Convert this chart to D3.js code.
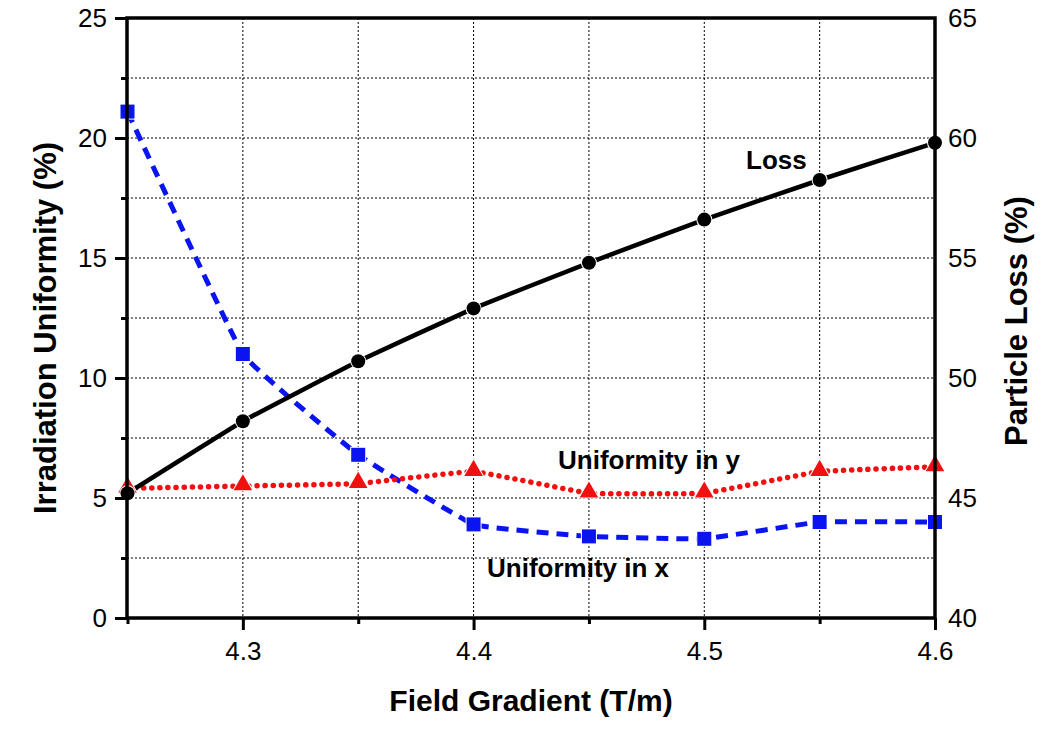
<!DOCTYPE html>
<html>
<head>
<meta charset="utf-8">
<script src="https://cdn.jsdelivr.net/npm/d3@7"></script>
<style>
  body { margin: 0; background: #fff; }
  text { font-family: "Liberation Sans", Arial, sans-serif; }
</style>
</head>
<body>
<div id="chart"></div>
<script>
const width = 1062;
const height = 729;

// data
const gradient = [4.25, 4.3, 4.35, 4.4, 4.45, 4.5, 4.55, 4.6];
const uniformX = [21.1, 11.0, 6.8, 3.9, 3.4, 3.3, 4.0, 4.0];
const uniformY = [5.4, 5.5, 5.6, 6.1, 5.2, 5.2, 6.1, 6.3];
const loss = [45.2, 48.2, 50.7, 52.9, 54.8, 56.6, 58.25, 59.8];

const xTicks = [4.3, 4.4, 4.5, 4.6];
const xMinor = [4.25, 4.35, 4.45, 4.55];
const leftTicks = [0, 5, 10, 15, 20, 25];
const leftMinor = [2.5, 7.5, 12.5, 17.5, 22.5];
const rightTicks = [40, 45, 50, 55, 60, 65];

const margin = { top: 18, right: 127, bottom: 111, left: 127 };
const plotLeft = margin.left, plotRight = width - margin.right;
const plotTop = margin.top, plotBottom = height - margin.bottom;

const svg = d3.select("#chart").append("svg")
    .attr("width", width)
    .attr("height", height);

const x = d3.scaleLinear().domain([4.25, 4.6]).range([plotLeft + 0.5, plotRight]);
const yL = d3.scaleLinear().domain([0, 25]).range([plotBottom, plotTop]);
const yR = d3.scaleLinear().domain([40, 65]).range([plotBottom, plotTop]);

// grid
const grid = svg.append("g")
    .attr("stroke", "#000")
    .attr("stroke-width", 1)
    .attr("stroke-dasharray", "2,2");
grid.selectAll(".gx").data(xTicks.concat(xMinor).filter(d => d > 4.25 && d < 4.6))
  .join("line")
    .attr("x1", d => x(d)).attr("x2", d => x(d))
    .attr("y1", plotTop).attr("y2", plotBottom);
grid.selectAll(".gy").data(leftTicks.concat(leftMinor).filter(d => d > 0 && d < 25))
  .join("line")
    .attr("x1", plotLeft).attr("x2", plotRight)
    .attr("y1", d => yL(d)).attr("y2", d => yL(d));

// series
const lineFor = (ys, scale) => d3.line()
    .x((d, i) => x(gradient[i]))
    .y(d => scale(d))
    .curve(d3.curveCardinal.tension(0.75))(ys);

svg.append("path")
    .attr("d", lineFor(uniformX, yL))
    .attr("fill", "none")
    .attr("stroke", "#0a14f0")
    .attr("stroke-width", 5)
    .attr("stroke-dasharray", "12,8");

svg.append("path")
    .attr("d", lineFor(uniformY, yL))
    .attr("fill", "none")
    .attr("stroke", "#f01010")
    .attr("stroke-width", 5.5)
    .attr("stroke-linecap", "round")
    .attr("stroke-dasharray", "0.1,8");

svg.append("path")
    .attr("d", lineFor(loss, yR))
    .attr("fill", "none")
    .attr("stroke", "#000")
    .attr("stroke-width", 4.5);

// markers, with a thin white halo like the original
svg.append("g").selectAll("rect").data(uniformX).join("rect")
    .attr("x", (d, i) => x(gradient[i]) - 7)
    .attr("y", d => yL(d) - 7)
    .attr("width", 14).attr("height", 14)
    .attr("fill", "#0a14f0")
    .attr("stroke", "#fff").attr("stroke-width", 2)
    .attr("paint-order", "stroke");

const tri = d3.symbol().type(d3.symbolTriangle).size(150);
svg.append("g").selectAll("path").data(uniformY).join("path")
    .attr("d", tri)
    .attr("transform", (d, i) => `translate(${x(gradient[i])},${yL(d) - 1})`)
    .attr("fill", "#f01010")
    .attr("stroke", "#fff").attr("stroke-width", 2)
    .attr("paint-order", "stroke");

svg.append("g").selectAll("circle").data(loss).join("circle")
    .attr("cx", (d, i) => x(gradient[i]))
    .attr("cy", d => yR(d))
    .attr("r", 7)
    .attr("fill", "#000")
    .attr("stroke", "#fff").attr("stroke-width", 2)
    .attr("paint-order", "stroke");

// frame
svg.append("rect")
    .attr("x", plotLeft).attr("y", plotTop)
    .attr("width", plotRight - plotLeft).attr("height", plotBottom - plotTop)
    .attr("fill", "none")
    .attr("stroke", "#000")
    .attr("stroke-width", 3.5);

// axes
svg.append("g")
    .attr("transform", `translate(0,${plotBottom})`)
    .call(d3.axisBottom(x).tickValues(xTicks).tickSize(12).tickPadding(12).tickFormat(d3.format(".1f")));
svg.append("g")
    .attr("transform", `translate(0,${plotBottom})`)
    .call(d3.axisBottom(x).tickValues(xMinor).tickSize(6).tickFormat(""));

svg.append("g")
    .attr("transform", `translate(${plotLeft},0)`)
    .call(d3.axisLeft(yL).tickValues(leftTicks).tickSize(12).tickPadding(8));
svg.append("g")
    .attr("transform", `translate(${plotLeft},0)`)
    .call(d3.axisLeft(yL).tickValues(leftMinor).tickSize(6).tickFormat(""));

svg.append("g")
    .attr("transform", `translate(${plotRight},0)`)
    .call(d3.axisRight(yR).tickValues(rightTicks).tickSize(0).tickPadding(13));

svg.selectAll(".domain").remove();
svg.selectAll(".tick line").attr("stroke", "#000").attr("stroke-width", 3);
svg.selectAll(".tick text")
    .attr("font-size", 26)
    .attr("fill", "#000")
    .style("font-family", "Liberation Sans, Arial, sans-serif");

// titles
svg.append("text")
    .attr("x", (plotLeft + plotRight) / 2)
    .attr("y", 711)
    .attr("text-anchor", "middle")
    .attr("font-size", 30)
    .attr("font-weight", "bold")
    .text("Field Gradient (T/m)");

svg.append("text")
    .attr("transform", `translate(56,${(plotTop + plotBottom) / 2 + 10}) rotate(-90)`)
    .attr("text-anchor", "middle")
    .attr("font-size", 31)
    .attr("font-weight", "bold")
    .text("Irradiation Uniformity (%)");

svg.append("text")
    .attr("transform", `translate(1027,${(plotTop + plotBottom) / 2 + 3}) rotate(-90)`)
    .attr("text-anchor", "middle")
    .attr("font-size", 31)
    .attr("font-weight", "bold")
    .text("Particle Loss (%)");

// annotations
function createAnnotation(ax, ay, text) {
    svg.append("text")
        .attr("x", ax)
        .attr("y", ay)
        .attr("font-size", 26)
        .attr("font-weight", "bold")
        .text(text);
}
createAnnotation(746, 169, "Loss");
createAnnotation(558, 469, "Uniformity in y");
createAnnotation(487, 577, "Uniformity in x");
</script>
</body>
</html>
